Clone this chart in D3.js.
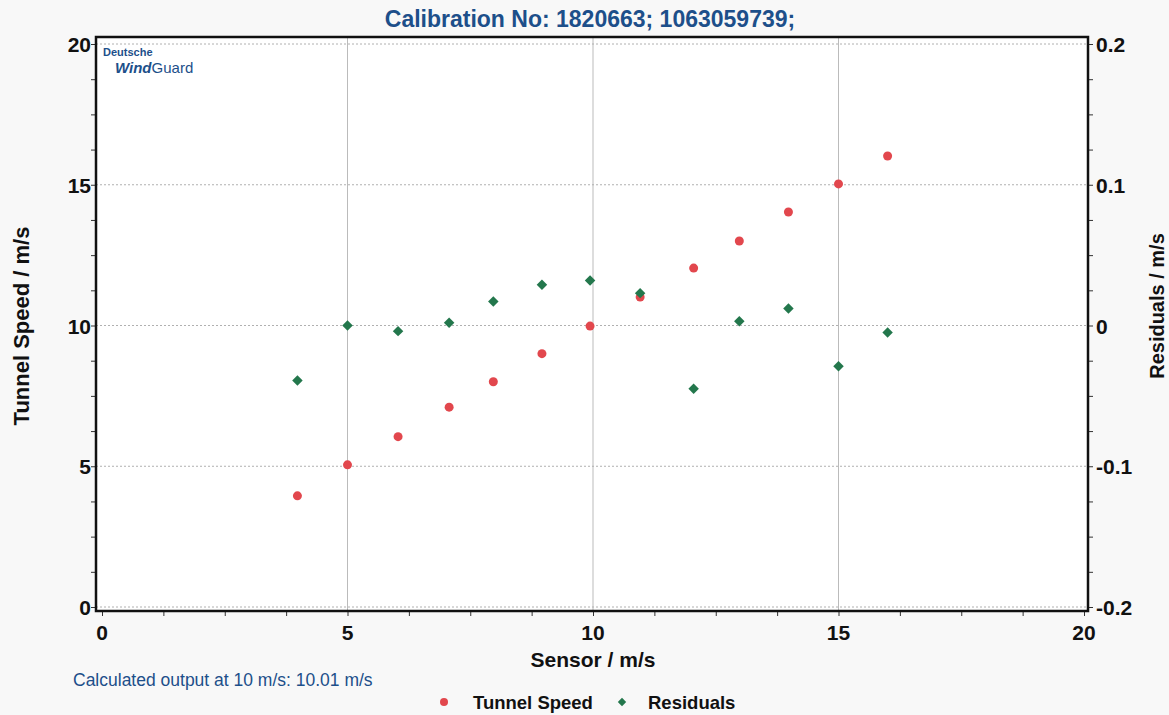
<!DOCTYPE html>
<html>
<head>
<meta charset="utf-8">
<script src="https://cdn.jsdelivr.net/npm/d3@7"></script>
<style>
  body { margin: 0; background: #f8f8f8; }
  svg { font-family: Arial, "Liberation Sans", sans-serif; }
</style>
</head>
<body>
<svg id="mainSvg" width="1169" height="715"></svg>
<script>
// data
const sensor = [3.98, 5.0, 6.03, 7.07, 7.97, 8.96, 9.94, 10.96, 12.05, 12.98, 13.98, 15.0, 16.0];
const tunnelSpeed = [3.95, 5.05, 6.05, 7.1, 8.0, 9.0, 9.98, 11.01, 12.04, 13.0, 14.03, 15.03, 16.02];
const residuals = [-0.039, 0.0, -0.004, 0.002, 0.017, 0.029, 0.032, 0.023, -0.045, 0.003, 0.012, -0.029, -0.005];
const xTicks = [0, 5, 10, 15, 20];
const yTicks = [0, 5, 10, 15, 20];
const rTicks = [-0.2, -0.1, 0, 0.1, 0.2];

let svg = d3.select('#mainSvg');
let blue = '#1d4f8a';
let red = '#e2474d';
let green = '#23774c';

let x = d3.scaleLinear().domain([0, 20]).range([102, 1084]);
let y = d3.scaleLinear().domain([0, 20]).range([607, 44]);
let yr = d3.scaleLinear().domain([-0.2, 0.2]).range([607, 44]);

// plot background
svg.append('rect')
  .attr('x', 96).attr('y', 37)
  .attr('width', 992).attr('height', 574)
  .attr('fill', '#fff');

// grid
svg.append('g').selectAll('line').data(xTicks.slice(1, 4)).join('line')
  .attr('x1', d => x(d)).attr('x2', d => x(d))
  .attr('y1', 37).attr('y2', 611)
  .attr('stroke', '#bbb').attr('stroke-width', 1);
svg.append('g').selectAll('line').data(yTicks).join('line')
  .attr('x1', 96).attr('x2', 1088)
  .attr('y1', d => y(d)).attr('y2', d => y(d))
  .attr('stroke', '#b0b0b0').attr('stroke-width', 1)
  .attr('stroke-dasharray', '2,2');

// axes (minor ticks every quarter of a major step)
let xAxis = d3.axisBottom(x).tickValues(d3.range(0, 20.01, 1.25)).tickSize(5).tickFormat('');
svg.append('g').attr('transform', 'translate(0,611)').call(xAxis);
let yAxis = d3.axisLeft(y).tickValues(d3.range(0, 20.01, 1.25)).tickSize(5).tickFormat('');
svg.append('g').attr('transform', 'translate(96,0)').call(yAxis);
let rAxis = d3.axisRight(yr).tickValues(d3.range(-0.2, 0.2001, 0.025)).tickSize(5).tickFormat('');
svg.append('g').attr('transform', 'translate(1088,0)').call(rAxis);
svg.selectAll('.domain').attr('stroke', 'none');
svg.selectAll('.tick line').attr('stroke', '#333');

// frame
svg.append('rect')
  .attr('x', 96).attr('y', 37)
  .attr('width', 992).attr('height', 574)
  .attr('fill', 'none')
  .attr('stroke', '#111').attr('stroke-width', 2.5);

// tick labels
svg.append('g').selectAll('text').data(xTicks).join('text')
  .attr('x', d => x(d)).attr('y', 640)
  .attr('text-anchor', 'middle')
  .attr('font-size', 21).attr('font-weight', 'bold').attr('fill', '#111')
  .text(d => d);
svg.append('g').selectAll('text').data(yTicks).join('text')
  .attr('x', 91).attr('y', d => y(d) + 8)
  .attr('text-anchor', 'end')
  .attr('font-size', 21).attr('font-weight', 'bold').attr('fill', '#111')
  .text(d => d);
svg.append('g').selectAll('text').data(rTicks).join('text')
  .attr('x', 1096).attr('y', d => yr(d) + 8)
  .attr('font-size', 21).attr('font-weight', 'bold').attr('fill', '#111')
  .text(d => String(d));

// titles
svg.append('text')
  .attr('x', 590).attr('y', 27)
  .attr('text-anchor', 'middle')
  .attr('font-size', 23).attr('font-weight', 'bold').attr('fill', blue)
  .text('Calibration No: 1820663; 1063059739;');
svg.append('text')
  .attr('x', 593).attr('y', 667)
  .attr('text-anchor', 'middle')
  .attr('font-size', 21).attr('font-weight', 'bold').attr('fill', '#111')
  .text('Sensor / m/s');
svg.append('text')
  .attr('transform', 'translate(29,326) rotate(-90)')
  .attr('text-anchor', 'middle')
  .attr('font-size', 22).attr('font-weight', 'bold').attr('fill', '#111')
  .text('Tunnel Speed / m/s');
svg.append('text')
  .attr('transform', 'translate(1164,306) rotate(-90)')
  .attr('text-anchor', 'middle')
  .attr('font-size', 20).attr('font-weight', 'bold').attr('fill', '#111')
  .text('Residuals / m/s');
svg.append('text')
  .attr('x', 73).attr('y', 686)
  .attr('font-size', 17.5).attr('fill', blue)
  .text('Calculated output at 10 m/s: 10.01 m/s');

// logo
svg.append('text')
  .attr('x', 103).attr('y', 56)
  .attr('font-size', 11).attr('font-weight', 'bold').attr('fill', blue)
  .text('Deutsche');
let logo = svg.append('text')
  .attr('x', 115).attr('y', 73)
  .attr('font-size', 15).attr('fill', blue);
logo.append('tspan').attr('font-weight', 'bold').attr('font-style', 'italic').text('Wind');
logo.append('tspan').text('Guard');

// points
svg.append('g').selectAll('circle').data(sensor).join('circle')
  .attr('cx', d => x(d))
  .attr('cy', (d, i) => y(tunnelSpeed[i]))
  .attr('r', 4.5)
  .attr('fill', red);
let diamond = d3.symbol().type(d3.symbolDiamond2).size(70);
svg.append('g').selectAll('path').data(sensor).join('path')
  .attr('d', diamond)
  .attr('transform', (d, i) => `translate(${x(d)},${yr(residuals[i])})`)
  .attr('fill', green);

// legend
svg.append('circle').attr('cx', 444).attr('cy', 702).attr('r', 4).attr('fill', red);
svg.append('text').attr('x', 473).attr('y', 709)
  .attr('font-size', 18.5).attr('font-weight', 'bold').attr('fill', '#111')
  .text('Tunnel Speed');
svg.append('path').attr('d', d3.symbol().type(d3.symbolDiamond2).size(45))
  .attr('transform', 'translate(622,702)').attr('fill', green);
svg.append('text').attr('x', 648).attr('y', 709)
  .attr('font-size', 18.5).attr('font-weight', 'bold').attr('fill', '#111')
  .text('Residuals');
</script>
</body>
</html>
